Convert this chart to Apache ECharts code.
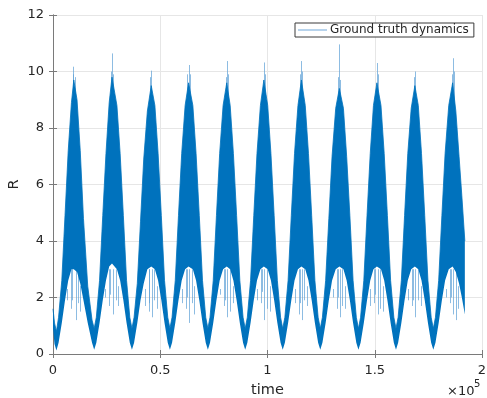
<!DOCTYPE html>
<html><head><meta charset="utf-8">
<script src="https://cdn.jsdelivr.net/npm/echarts@6/dist/echarts.min.js"></script>
<style>html,body{margin:0;padding:0;background:#fff}#c{width:487px;height:398px}</style>
</head><body><div id="c"></div>
<script>
// Envelope of the noisy "Ground truth dynamics" signal
const envT = [0, 700,
 1600, 2600, 4100, 5600, 7100, 8600, 9700, 11200, 12700, 14200, 16200, 18200,
 19200, 20200, 21700, 23200, 24700, 26200, 27500, 29800, 31300, 32800, 34300, 35800,
 36800, 37800, 39300, 40800, 42300, 44000, 45800, 47500, 49000, 50500, 52000, 53500,
 54500, 55500, 57000, 58500, 60000, 61600, 63200, 65200, 66700, 68200, 69700, 71200,
 72200, 73200, 74700, 76200, 77700, 79300, 81000, 82600, 84100, 85600, 87100, 88600,
 89600, 90600, 92100, 93600, 95100, 96700, 98300, 100100, 101600, 103100, 104600, 106100,
 107100, 108100, 109600, 111100, 112600, 114200, 115800, 117600, 119100, 120600, 122100, 123600,
 124600, 125600, 127100, 128600, 130100, 131800, 133500, 135400, 136900, 138400, 139900, 141400,
 142400, 143400, 144900, 146400, 147900, 149400, 151000, 152900, 154400, 155900, 157400, 158900,
 159900, 160900, 162400, 163900, 165400, 167000, 168700, 170300, 171800, 173300, 174800, 176300,
 177300, 178300, 179800, 181300, 182800, 184500, 186300, 187800, 189300, 190600, 192000];
const envHi = [1.6, 1.1,
 0.8, 1.3, 2.6, 4.9, 7.2, 8.9, 9.7, 9.0, 7.2, 4.8, 2.4, 1.2,
 0.9, 1.3, 2.6, 4.9, 7.1, 8.9, 9.8, 8.8, 7.1, 4.9, 2.6, 1.3,
 0.9, 1.3, 2.5, 4.7, 6.9, 8.6, 9.5, 8.8, 7.1, 4.9, 2.6, 1.3,
 0.9, 1.3, 2.6, 4.9, 7.1, 8.8, 9.6, 8.8, 7.1, 4.9, 2.6, 1.3,
 0.9, 1.3, 2.6, 4.9, 7.1, 8.8, 9.6, 8.8, 7.1, 4.9, 2.6, 1.3,
 0.9, 1.3, 2.6, 4.9, 7.1, 8.8, 9.7, 8.8, 7.1, 4.9, 2.6, 1.3,
 0.9, 1.3, 2.6, 4.9, 7.1, 8.8, 9.7, 8.8, 7.1, 4.9, 2.6, 1.3,
 0.9, 1.3, 2.6, 4.8, 7.0, 8.7, 9.4, 8.7, 7.0, 4.9, 2.6, 1.3,
 0.9, 1.3, 2.6, 4.9, 7.1, 8.8, 9.6, 8.8, 7.1, 4.9, 2.6, 1.3,
 0.9, 1.3, 2.6, 4.9, 7.1, 8.7, 9.5, 8.8, 7.1, 4.9, 2.6, 1.3,
 0.9, 1.3, 2.6, 4.9, 7.1, 8.8, 9.6, 8.6, 7.0, 5.6, 4.0];
const envLo = [0.9, 0.35,
 0.12, 0.4, 1.1, 1.9, 2.6, 3.0, 3.0, 2.9, 2.5, 1.9, 1.1, 0.4,
 0.15, 0.4, 1.1, 1.9, 2.6, 3.1, 3.2, 3.0, 2.6, 1.9, 1.1, 0.4,
 0.15, 0.4, 1.1, 1.9, 2.5, 3.0, 3.1, 3.0, 2.6, 1.9, 1.1, 0.4,
 0.15, 0.4, 1.1, 1.9, 2.6, 3.0, 3.1, 3.0, 2.6, 1.9, 1.1, 0.4,
 0.15, 0.4, 1.1, 1.9, 2.6, 3.0, 3.1, 3.0, 2.6, 1.9, 1.1, 0.4,
 0.15, 0.4, 1.1, 1.9, 2.6, 3.0, 3.1, 3.0, 2.6, 1.9, 1.1, 0.4,
 0.15, 0.4, 1.1, 1.9, 2.6, 3.0, 3.1, 3.0, 2.6, 1.9, 1.1, 0.4,
 0.15, 0.4, 1.1, 1.9, 2.6, 3.0, 3.1, 3.0, 2.6, 1.9, 1.1, 0.4,
 0.15, 0.4, 1.1, 1.9, 2.6, 3.0, 3.1, 3.0, 2.6, 1.9, 1.1, 0.4,
 0.15, 0.4, 1.1, 1.9, 2.6, 3.0, 3.1, 3.0, 2.6, 1.9, 1.1, 0.4,
 0.15, 0.4, 1.1, 1.9, 2.6, 3.0, 3.1, 2.9, 2.5, 2.0, 1.4];

// Light outlying spikes (time, from, to)
const spikeT = [9650, 9300, 10300, 27600, 27100, 28100, 45900, 45400, 63300, 62800, 63800,
 81100, 80600, 81600, 98400, 98900, 115800, 115300, 116300, 133600, 133100, 134100,
 151000, 151500, 168800, 168300, 186400, 186900, 185900,
 8400, 10900, 11800, 26300, 27900, 29300, 44700, 46300, 47400, 62100, 63600, 64900,
 79800, 81400, 82500, 97100, 98700, 99800, 114600, 116200, 117300, 132300, 133900, 135000,
 149800, 151400, 152500, 167500, 169100, 170200, 185100, 186700, 187900,
 6700, 24500, 42800, 60200, 78000, 95300, 112800, 130500, 148000, 165700, 183300,
 9000, 26800, 45100, 62500, 80300, 97600, 115100, 132800, 150300, 168000, 185600,
 12500, 30300, 48600, 66000, 83800, 101100, 118600, 136300, 153800, 171500, 189100];
const spikeFrom = [8.8, 8.8, 8.8, 8.8, 8.8, 8.8, 8.8, 8.8, 8.8, 8.8, 8.8,
 8.8, 8.8, 8.8, 8.8, 8.8, 8.8, 8.8, 8.8, 8.8, 8.8, 8.8,
 8.8, 8.8, 8.8, 8.8, 8.8, 8.8, 8.8,
 3.0, 3.0, 3.0, 3.0, 3.0, 3.0, 3.0, 3.0, 3.0, 3.0, 3.0, 3.0,
 3.0, 3.0, 3.0, 3.0, 3.0, 3.0, 3.0, 3.0, 3.0, 3.0, 3.0, 3.0,
 3.0, 3.0, 3.0, 3.0, 3.0, 3.0, 3.0, 3.0, 3.0,
 2.3, 2.3, 2.3, 2.3, 2.3, 2.3, 2.3, 2.3, 2.3, 2.3, 2.3,
 3.0, 3.0, 3.0, 3.0, 3.0, 3.0, 3.0, 3.0, 3.0, 3.0, 3.0,
 2.4, 2.4, 2.4, 2.4, 2.4, 2.4, 2.4, 2.4, 2.4, 2.4, 2.4];
const spikeTo = [10.17, 9.9, 9.8, 10.64, 10.0, 9.9, 10.03, 9.8, 10.23, 9.9, 9.9,
 10.37, 9.8, 9.9, 10.32, 9.9, 10.37, 9.9, 10.0, 10.96, 9.8, 9.7,
 10.3, 9.9, 10.0, 9.8, 10.47, 10.0, 9.9,
 1.6, 1.2, 1.8, 1.7, 1.4, 1.9, 1.5, 1.3, 1.9, 1.6, 1.1, 1.8,
 1.7, 1.3, 1.5, 1.8, 1.2, 1.6, 1.4, 1.2, 1.9, 1.6, 1.3, 1.7,
 1.8, 1.4, 1.6, 1.7, 1.3, 1.9, 1.8, 1.4, 1.2,
 1.9, 2.0, 1.7, 1.8, 2.1, 1.9, 1.8, 2.0, 1.7, 1.9, 2.0,
 1.9, 2.1, 1.8, 2.0, 1.9, 2.2, 1.8, 2.0, 2.1, 1.9, 2.0,
 1.5, 1.7, 1.6, 1.4, 1.8, 1.5, 1.7, 1.6, 1.5, 1.7, 1.6];

const xTicks = [0, 50000, 100000, 150000, 200000];
const yTicks = [0, 2, 4, 6, 8, 10, 12];

const FONT = 'DejaVu Sans';
const BLUE = '#0072BD';
const chart = echarts.init(document.getElementById('c'), null, {renderer: 'canvas'});

// value first, time second, so that stacking happens on the value dimension
const loData = envT.map((t, i) => [envLo[i], t]);
const bandData = envT.map((t, i) => [envHi[i] - envLo[i], t]);
const spikeData = spikeT.map((t, i) => ({coords: [[t, spikeFrom[i]], [t, spikeTo[i]]]}));

const axisLineStyle = {color: '#7a7a7a', width: 1};
const baseX = {
  type: 'value', min: xTicks[0], max: xTicks[xTicks.length - 1], interval: xTicks[1] - xTicks[0]
};
const baseY = {
  type: 'value', min: yTicks[0], max: yTicks[yTicks.length - 1], interval: yTicks[1] - yTicks[0]
};

chart.setOption({
  animation: false,
  backgroundColor: '#fff',
  grid: {left: 53, right: 5, top: 15, bottom: 44, containLabel: false, outerBoundsMode: 'none'},
  legend: {
    data: [{name: 'Ground truth dynamics', icon: 'rect', itemStyle: {color: '#6fa6d8'}}],
    left: 295, top: 23,
    padding: [1, 5, 1, 3],
    itemWidth: 29, itemHeight: 1,
    borderColor: '#3a3a3a', borderWidth: 1,
    backgroundColor: '#fff',
    selectedMode: false,
    textStyle: {fontFamily: FONT, fontSize: 12, color: '#262626', padding: [0, 0, 0, -2]}
  },
  xAxis: [
    Object.assign({}, baseX, {
      position: 'bottom',
      name: 'time', nameLocation: 'middle', nameGap: 29, nameMoveOverlap: false,
      nameTextStyle: {fontFamily: FONT, fontSize: 14.5, color: '#262626'},
      axisLine: {show: true, lineStyle: axisLineStyle},
      axisTick: {show: true, inside: true, length: 4, lineStyle: axisLineStyle},
      axisLabel: {fontFamily: FONT, fontSize: 13, color: '#262626', margin: 10,
        formatter: v => String(v / 100000)},
      splitLine: {show: true, lineStyle: {color: '#e6e6e6', width: 1}}
    }),
    Object.assign({}, baseX, {
      position: 'top',
      axisLine: {show: true, lineStyle: axisLineStyle},
      axisTick: {show: true, inside: true, length: 4, lineStyle: axisLineStyle},
      axisLabel: {show: false}, splitLine: {show: false}
    })
  ],
  yAxis: [
    Object.assign({}, baseY, {
      position: 'left',
      name: 'R', nameLocation: 'middle', nameGap: 31, nameRotate: 90, nameMoveOverlap: false,
      nameTextStyle: {fontFamily: FONT, fontSize: 14.5, color: '#262626'},
      axisLine: {show: true, lineStyle: axisLineStyle},
      axisTick: {show: true, inside: true, length: 4, lineStyle: axisLineStyle},
      axisLabel: {fontFamily: FONT, fontSize: 13, color: '#262626', margin: 9},
      splitLine: {show: true, lineStyle: {color: '#e6e6e6', width: 1}}
    }),
    Object.assign({}, baseY, {
      position: 'right',
      axisLine: {show: true, lineStyle: axisLineStyle},
      axisTick: {show: true, inside: true, length: 4, lineStyle: axisLineStyle},
      axisLabel: {show: false}, splitLine: {show: false}
    })
  ],
  series: [
    {
      name: 'spikes', type: 'lines', coordinateSystem: 'cartesian2d',
      xAxisIndex: 0, yAxisIndex: 0, z: 1, silent: true,
      lineStyle: {color: '#5d9fd6', width: 1, opacity: 0.7},
      data: spikeData
    },
    {
      name: 'lower', type: 'line', stack: 'env', xAxisIndex: 0, yAxisIndex: 0,
      encode: {x: 1, y: 0},
      symbol: 'none', silent: true, z: 2,
      lineStyle: {opacity: 0, width: 0},
      data: loData
    },
    {
      name: 'Ground truth dynamics', type: 'line', stack: 'env', xAxisIndex: 0, yAxisIndex: 0,
      encode: {x: 1, y: 0},
      symbol: 'none', silent: true, z: 2,
      lineStyle: {color: BLUE, width: 0.8},
      areaStyle: {color: BLUE, opacity: 1},
      itemStyle: {color: BLUE},
      data: bandData
    }
  ],
  graphic: [
    {type: 'text', left: 447, top: 385,
     style: {text: '×10', fontFamily: FONT, fontSize: 13, fill: '#262626'}},
    {type: 'text', left: 474, top: 379,
     style: {text: '5', fontFamily: FONT, fontSize: 10, fill: '#262626'}}
  ]
});
</script>
</body></html>
